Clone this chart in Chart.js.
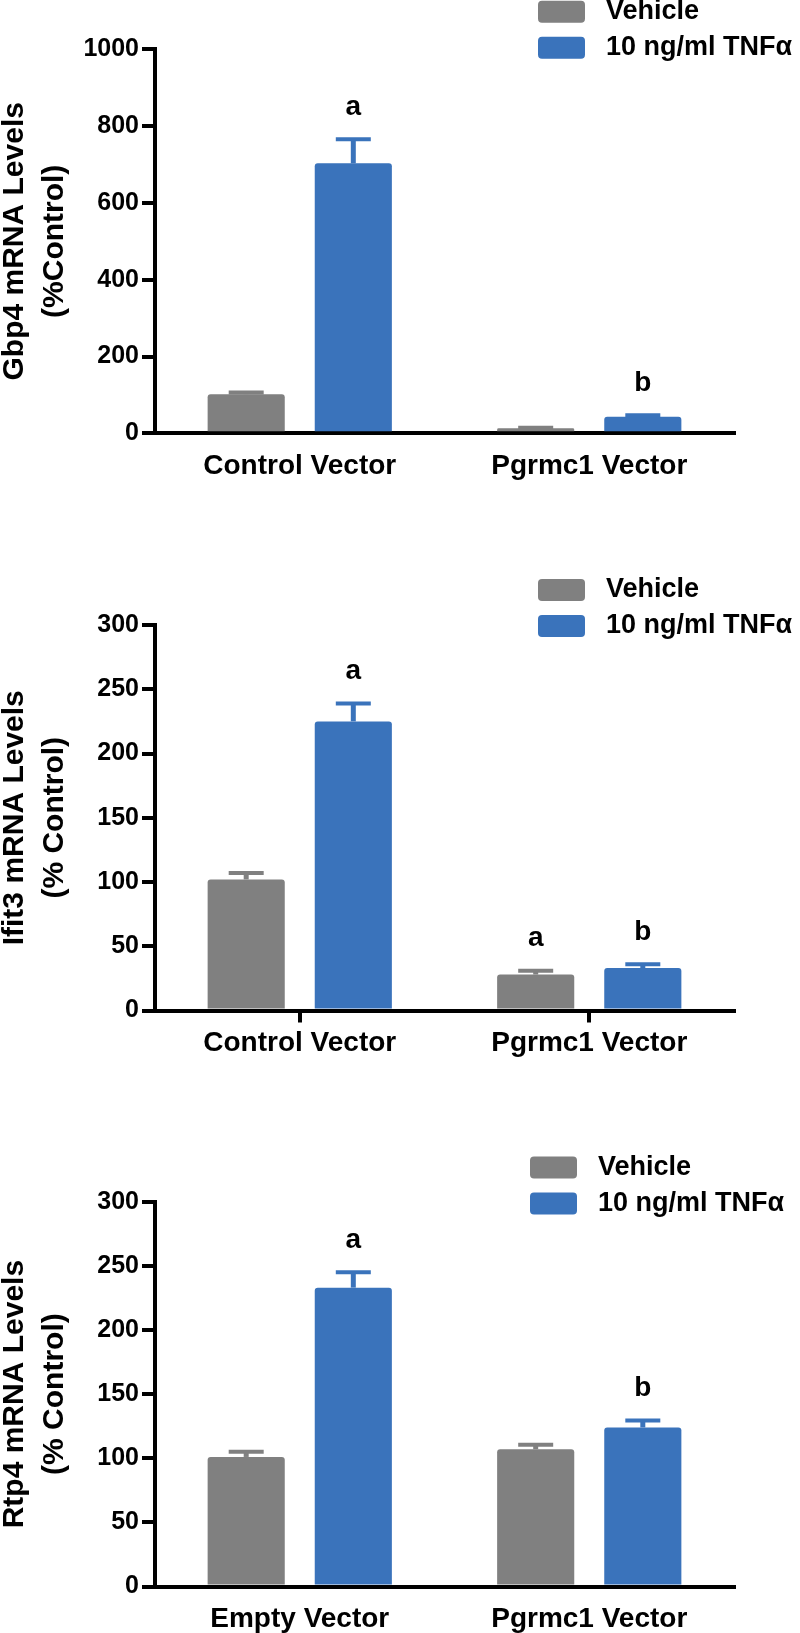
<!DOCTYPE html>
<html>
<head>
<meta charset="utf-8">
<script src="https://cdn.jsdelivr.net/npm/chart.js@4.4.0/dist/chart.umd.min.js"></script>
<style>
  body { margin: 0; background: #fff; }
  canvas { display: block; }
</style>
</head>
<body>
<canvas id="gbp4" width="800" height="530"></canvas>
<canvas id="ifit3" width="800" height="530"></canvas>
<canvas id="rtp4" width="800" height="573"></canvas>
<script>
const seriesNames = ['Vehicle', '10 ng/ml TNFα'];

// Gbp4
const gbp4Groups = ['Control Vector', 'Pgrmc1 Vector'];
const gbp4Vehicle = [102, 13];
const gbp4VehicleErr = [4, 1.5];
const gbp4VehicleSig = ['', ''];
const gbp4Tnf = [703, 43];
const gbp4TnfErr = [63, 4];
const gbp4TnfSig = ['a', 'b'];
const gbp4Ticks = [0, 200, 400, 600, 800, 1000];

// Ifit3
const ifit3Groups = ['Control Vector', 'Pgrmc1 Vector'];
const ifit3Vehicle = [102, 28];
const ifit3VehicleErr = [5, 3];
const ifit3VehicleSig = ['', 'a'];
const ifit3Tnf = [225, 33];
const ifit3TnfErr = [14, 3];
const ifit3TnfSig = ['a', 'b'];
const ifit3Ticks = [0, 50, 100, 150, 200, 250, 300];

// Rtp4
const rtp4Groups = ['Empty Vector', 'Pgrmc1 Vector'];
const rtp4Vehicle = [101, 107];
const rtp4VehicleErr = [4, 3.5];
const rtp4VehicleSig = ['', ''];
const rtp4Tnf = [233, 124];
const rtp4TnfErr = [12, 5.5];
const rtp4TnfSig = ['a', 'b'];
const rtp4Ticks = [0, 50, 100, 150, 200, 250, 300];

const GRAY = '#808080';
const BLUE = '#3a73bb';
const FONT = '"Liberation Sans", Arial, sans-serif';

Chart.defaults.font.family = FONT;
Chart.defaults.color = '#000';

const errorBarPlugin = {
    id: 'errorBars',
    afterDatasetsDraw(chart) {
        const ctx = chart.ctx;
        const yScale = chart.scales.y;
        chart.data.datasets.forEach((ds, i) => {
            chart.getDatasetMeta(i).data.forEach((bar, j) => {
                const top = yScale.getPixelForValue(ds.data[j] + ds.errors[j]);
                ctx.save();
                ctx.strokeStyle = ds.backgroundColor;
                ctx.lineWidth = 5;
                ctx.beginPath();
                ctx.moveTo(bar.x, bar.y);
                ctx.lineTo(bar.x, top);
                ctx.stroke();
                ctx.lineWidth = 4;
                ctx.beginPath();
                ctx.moveTo(bar.x - 17.5, top);
                ctx.lineTo(bar.x + 17.5, top);
                ctx.stroke();
                if (ds.sig[j]) {
                    ctx.fillStyle = '#000';
                    ctx.font = 'bold 28px ' + FONT;
                    ctx.textAlign = 'center';
                    ctx.textBaseline = 'middle';
                    ctx.fillText(ds.sig[j], bar.x, top - 32);
                }
                ctx.restore();
            });
        });
    }
};

const boxLegendPlugin = {
    id: 'boxLegend',
    afterDraw(chart, args, opts) {
        const ctx = chart.ctx;
        chart.data.datasets.forEach((ds, i) => {
            const cy = opts.y + i * 36;
            ctx.save();
            ctx.fillStyle = ds.backgroundColor;
            ctx.beginPath();
            ctx.roundRect(opts.x, cy - 11, 47, 22, 4);
            ctx.fill();
            ctx.fillStyle = '#000';
            ctx.font = 'bold 27px ' + FONT;
            ctx.textBaseline = 'middle';
            ctx.fillText(ds.label, opts.x + 68, cy);
            ctx.restore();
        });
    }
};

function makeChart(id, groups, vehicle, vehicleErr, vehicleSig, tnf, tnfErr, tnfSig, ticks, title, box) {
    const canv = document.getElementById(id);
    const h = canv.height;
    return new Chart(canv, {
        type: 'bar',
        data: {
            labels: groups,
            datasets: [{
                label: seriesNames[0],
                data: vehicle,
                errors: vehicleErr,
                sig: vehicleSig,
                backgroundColor: GRAY,
                borderRadius: 3
            }, {
                label: seriesNames[1],
                data: tnf,
                errors: tnfErr,
                sig: tnfSig,
                backgroundColor: BLUE,
                borderRadius: 3
            }]
        },
        options: {
            responsive: false,
            animation: false,
            categoryPercentage: 0.74,
            barPercentage: 0.72,
            layout: { padding: { left: 0, right: 66, top: box.top, bottom: 0 } },
            plugins: {
                legend: { display: false },
                tooltip: { enabled: false },
                boxLegend: { x: box.legendX, y: box.legendY }
            },
            scales: {
                x: {
                    ticks: { color: '#000', font: { size: 28, weight: 'bold' }, padding: 4, maxRotation: 0, autoSkip: false },
                    grid: {
                        offset: false, drawOnChartArea: false, tickLength: 12, tickWidth: 4,
                        tickColor: box.groupTicks ? '#000' : 'rgba(0,0,0,0)', lineWidth: 4, color: '#000'
                    },
                    border: { display: true, width: 4, color: '#000' },
                    afterFit: s => { s.height = h - box.bottom; }
                },
                y: {
                    min: ticks[0],
                    max: ticks[ticks.length - 1],
                    afterBuildTicks: s => { s.ticks = ticks.map(v => ({ value: v })); },
                    ticks: {
                        color: '#000', font: { size: 25, weight: 'bold' }, padding: 3,
                        callback: v => String(v)
                    },
                    grid: { drawOnChartArea: false, tickLength: 13, tickWidth: 4, tickColor: '#000', lineWidth: 4, color: '#000' },
                    border: { display: true, width: 4, color: '#000' },
                    title: {
                        display: true, text: title, color: '#000',
                        font: { size: 30, weight: 'bold', lineHeight: 1.35 },
                        padding: { top: -6, bottom: 0 }
                    },
                    afterFit: s => { s.width = 155; }
                }
            }
        },
        plugins: [errorBarPlugin, boxLegendPlugin]
    });
}

makeChart('gbp4', gbp4Groups, gbp4Vehicle, gbp4VehicleErr, gbp4VehicleSig, gbp4Tnf, gbp4TnfErr, gbp4TnfSig,
    gbp4Ticks, ['Gbp4 mRNA Levels', '(%Control)'],
    { top: 49.3, bottom: 433.3, legendX: 538, legendY: 11.7, groupTicks: false });

makeChart('ifit3', ifit3Groups, ifit3Vehicle, ifit3VehicleErr, ifit3VehicleSig, ifit3Tnf, ifit3TnfErr, ifit3TnfSig,
    ifit3Ticks, ['Ifit3 mRNA Levels', '(% Control)'],
    { top: 95, bottom: 480.5, legendX: 538, legendY: 60, groupTicks: true });

makeChart('rtp4', rtp4Groups, rtp4Vehicle, rtp4VehicleErr, rtp4VehicleSig, rtp4Tnf, rtp4TnfErr, rtp4TnfSig,
    rtp4Ticks, ['Rtp4 mRNA Levels', '(% Control)'],
    { top: 141.7, bottom: 526.5, legendX: 530, legendY: 107.5, groupTicks: false });
</script>
</body>
</html>
